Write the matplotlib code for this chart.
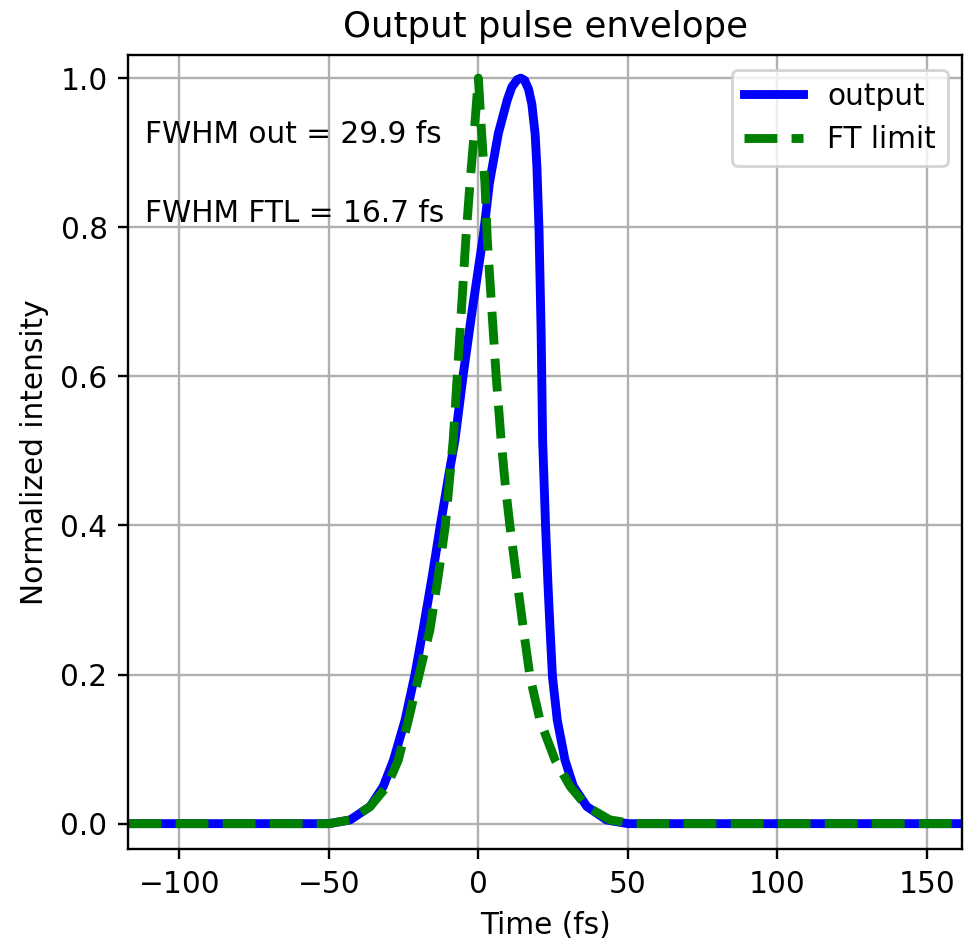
import matplotlib
matplotlib.use("Agg")
import matplotlib.pyplot as plt

# Output pulse
t_out = [-117, -60, -50, -42.9, -36.2, -31.8, -28.4, -24.5, -21.2, -18.5, -15.5, -12.8,
         -10.0, -7.8, -5.0, -2.0, 1.7, 3.7, 6.7, 9.7, 11.2, 13.0, 14.2, 15.5, 16.8, 17.9,
         19.0, 19.6, 20.3, 21.0, 21.5, 22.5, 23.3, 24.0, 24.8, 26.4, 29.0, 31.8, 36.3,
         42.9, 50, 60, 162]
i_out = [0.0, 0.0, 0.0, 0.005, 0.023, 0.050, 0.085, 0.139, 0.200, 0.260, 0.330, 0.398,
         0.465, 0.515, 0.604, 0.690, 0.790, 0.859, 0.926, 0.971, 0.988, 0.998, 1.0, 0.997, 0.985, 0.965,
         0.925, 0.880, 0.796, 0.660, 0.515, 0.398, 0.320, 0.260, 0.197, 0.139, 0.085, 0.050, 0.023,
         0.005, 0.0, 0.0, 0.0]

# Fourier-transform-limited pulse
t_ftl = [-117, -60, -50, -42.9, -36.2, -30.6, -26.8, -23.4, -19.8, -16.2, -13.5, -11.1,
         -8.4, -7.0, -4.2, -2.8, -1.4, 0.0, 1.1, 2.2, 3.0, 4.5, 5.9, 7.6, 9.0,
         10.6, 12.8, 15.1, 17.3, 20.6, 25.7, 30.7, 36.3, 44.0, 52, 60, 162]
i_ftl = [0.0, 0.0, 0.0, 0.005, 0.023, 0.050, 0.085, 0.139, 0.200, 0.260, 0.330, 0.398,
         0.515, 0.604, 0.783, 0.859, 0.926, 1.0, 0.926, 0.859, 0.783, 0.690, 0.604, 0.515, 0.455,
         0.398, 0.330, 0.260, 0.197, 0.139, 0.085, 0.050, 0.023, 0.005, 0.0, 0.0, 0.0]

fwhm_out = 29.9
fwhm_ftl = 16.7

DPI = 213
fig = plt.figure(figsize=(967/DPI, 940/DPI), dpi=DPI)
ax = fig.add_axes([128.3/967, (940-849)/940, (962.3-128.3)/967, (849-55)/940])
ax.plot(t_out, i_out, color='blue', lw=3, label='output')
ax.plot(t_ftl, i_ftl, color='green', lw=3, ls='--', label='FT limit')
ax.set_xlim(-117.1, 161.9)
ax.set_ylim(-0.034, 1.031)
ax.grid(True)
ax.set_xlabel('Time (fs)')
ax.set_ylabel('Normalized intensity')
ax.set_title('Output pulse envelope')
ax.text(0.02, 0.9, f'FWHM out = {fwhm_out:.1f} fs', transform=ax.transAxes, va='center')
ax.text(0.02, 0.8, f'FWHM FTL = {fwhm_ftl:.1f} fs', transform=ax.transAxes, va='center')
ax.legend(loc='upper right')
fig.savefig('out.png', dpi=DPI)
